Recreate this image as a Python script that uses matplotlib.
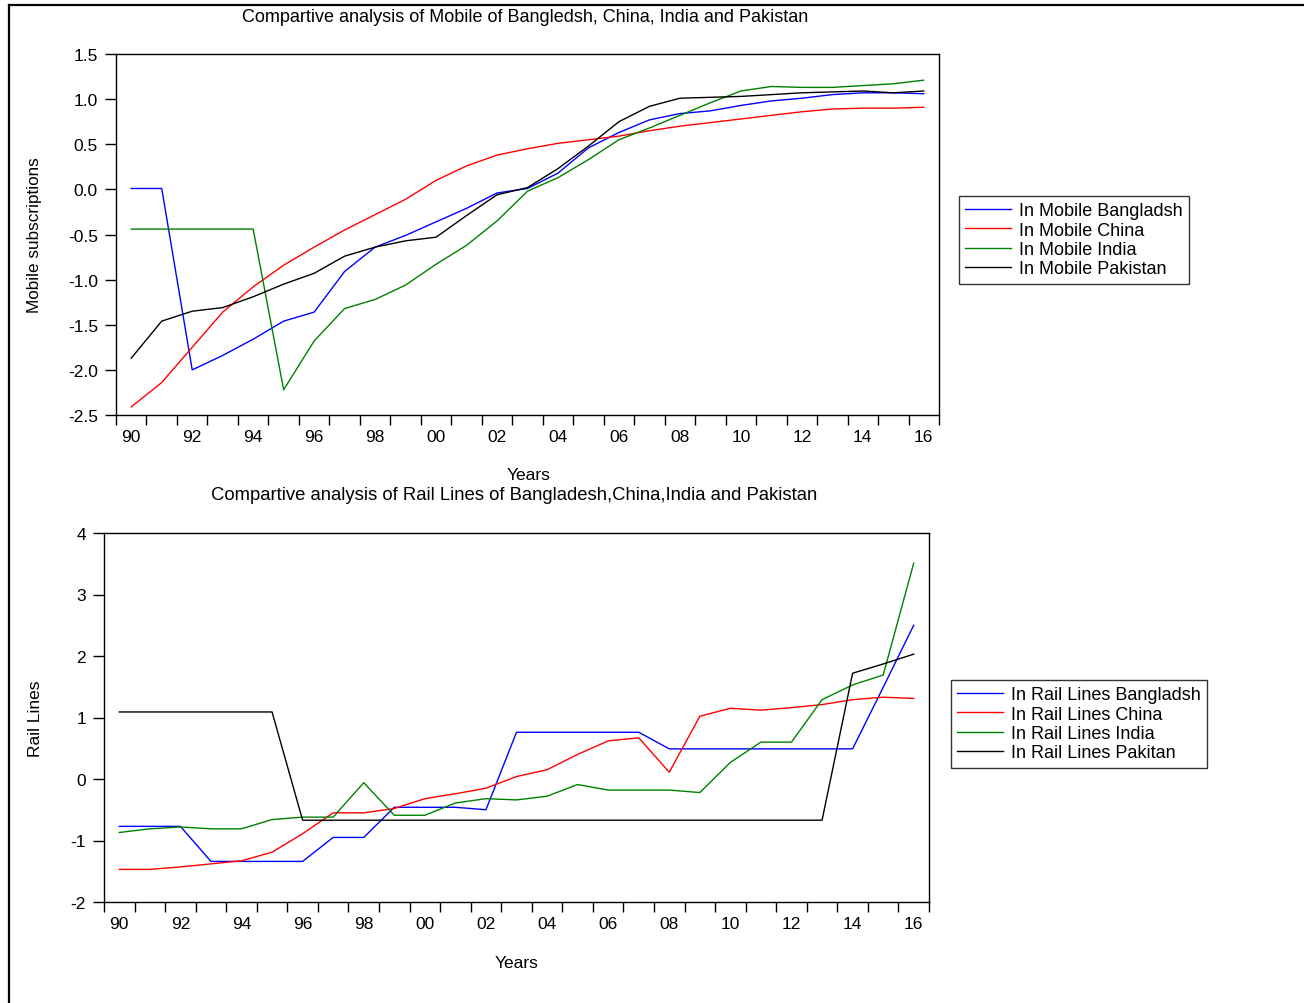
import numpy as np
import matplotlib
matplotlib.use("Agg")
import matplotlib.pyplot as plt
from matplotlib.lines import Line2D
from matplotlib.ticker import FixedLocator, NullFormatter

plt.rcParams['font.family'] = ['Liberation Sans', 'DejaVu Sans']

years = list(range(1990, 2017))
year_labels = ['90', '92', '94', '96', '98', '00', '02', '04', '06', '08', '10', '12', '14', '16']

# mobile subscriptions
mob_bangladesh = [0.01, 0.01, -2.00, -1.84, -1.66, -1.46, -1.36, -0.91, -0.64, -0.51, -0.36, -0.21, -0.04,
                  0.01, 0.18, 0.46, 0.63, 0.77, 0.84, 0.87, 0.93, 0.98, 1.01, 1.05, 1.07, 1.07, 1.06]
mob_china = [-2.41, -2.14, -1.75, -1.36, -1.08, -0.84, -0.64, -0.45, -0.28, -0.11, 0.10, 0.26, 0.38,
             0.45, 0.51, 0.55, 0.59, 0.65, 0.70, 0.74, 0.78, 0.82, 0.86, 0.89, 0.90, 0.90, 0.91]
mob_india = [-0.44, -0.44, -0.44, -0.44, -0.44, -2.22, -1.68, -1.32, -1.22, -1.06, -0.83, -0.62, -0.35,
             -0.02, 0.13, 0.33, 0.55, 0.68, 0.82, 0.96, 1.09, 1.14, 1.13, 1.13, 1.15, 1.17, 1.21]
mob_pakistan = [-1.87, -1.46, -1.35, -1.31, -1.19, -1.05, -0.93, -0.74, -0.64, -0.57, -0.53, -0.29, -0.06,
                0.02, 0.23, 0.48, 0.75, 0.92, 1.01, 1.02, 1.03, 1.05, 1.07, 1.08, 1.09, 1.07, 1.09]

# rail lines
rail_bangladesh = [-0.77, -0.77, -0.77, -1.34, -1.34, -1.34, -1.34, -0.95, -0.95, -0.46, -0.46, -0.46, -0.50,
                   0.76, 0.76, 0.76, 0.76, 0.76, 0.49, 0.49, 0.49, 0.49, 0.49, 0.49, 0.49, 1.49, 2.50]
rail_china = [-1.47, -1.47, -1.43, -1.38, -1.33, -1.19, -0.89, -0.55, -0.55, -0.48, -0.32, -0.24, -0.15,
              0.04, 0.15, 0.40, 0.62, 0.67, 0.11, 1.02, 1.15, 1.12, 1.16, 1.21, 1.29, 1.33, 1.31]
rail_india = [-0.87, -0.81, -0.78, -0.81, -0.81, -0.66, -0.62, -0.62, -0.06, -0.59, -0.59, -0.39, -0.32,
              -0.34, -0.28, -0.09, -0.18, -0.18, -0.18, -0.22, 0.27, 0.60, 0.60, 1.29, 1.53, 1.69, 3.51]
rail_pakistan = [1.09, 1.09, 1.09, 1.09, 1.09, 1.09, -0.67, -0.67, -0.67, -0.67, -0.67, -0.67, -0.67,
                 -0.67, -0.67, -0.67, -0.67, -0.67, -0.67, -0.67, -0.67, -0.67, -0.67, -0.67, 1.72, 1.87, 2.03]

colors = ['#0000FF', '#FF0000', '#008000', '#000000']

W, H = 1304, 1004
fig = plt.figure(figsize=(W / 100, H / 100), dpi=100)
fig.patch.set_facecolor('white')


def box(l, t, r, b):
    return [l / W, 1 - b / H, (r - l) / W, (b - t) / H]


def fx(x):
    return x / W


def fy(y):
    return 1 - y / H


def style_axis(ax, ylim, yticks, ylabels):
    ax.set_xlim(1989.5, 2016.5)
    ax.set_ylim(*ylim)
    ax.set_xticks(range(1990, 2017, 2))
    ax.set_xticklabels(year_labels)
    ax.xaxis.set_minor_locator(FixedLocator(np.arange(1989.5, 2017, 1.0)))
    ax.xaxis.set_minor_formatter(NullFormatter())
    ax.tick_params(axis='x', which='major', length=0, pad=10, labelsize=12.5)
    ax.tick_params(axis='x', which='minor', length=7, width=1, direction='out')
    ax.set_yticks(yticks)
    ax.set_yticklabels(ylabels)
    ax.tick_params(axis='y', length=8, width=1, direction='out', pad=5, labelsize=12.5)
    for s in ax.spines.values():
        s.set_linewidth(1)
        s.set_color('black')


def add_legend(ax, x, y):
    leg = ax.legend(loc='upper left', bbox_to_anchor=(fx(x), fy(y)), bbox_transform=fig.transFigure,
                    fontsize=13, frameon=True, fancybox=False, edgecolor='#333333', framealpha=1,
                    handlelength=2.55, handletextpad=0.4, labelspacing=0.13, borderpad=0.35,
                    borderaxespad=0)
    leg.get_frame().set_linewidth(1)
    return leg


# top panel
ax1 = fig.add_axes(box(116, 55, 939, 416))
mob = [mob_bangladesh, mob_china, mob_india, mob_pakistan]
mob_names = ['In Mobile Bangladsh', 'In Mobile China', 'In Mobile India', 'In Mobile Pakistan']
for vals, c, n in zip(mob, colors, mob_names):
    ax1.plot(years, vals, color=c, lw=1, label=n)
style_axis(ax1, (-2.5, 1.5), [1.5, 1.0, 0.5, 0.0, -0.5, -1.0, -1.5, -2.0, -2.5],
           ['1.5', '1.0', '0.5', '0.0', '-0.5', '-1.0', '-1.5', '-2.0', '-2.5'])
add_legend(ax1, 959, 197)

# bottom panel
ax2 = fig.add_axes(box(104, 534, 929, 903))
rail = [rail_bangladesh, rail_china, rail_india, rail_pakistan]
rail_names = ['In Rail Lines Bangladsh', 'In Rail Lines China', 'In Rail Lines India', 'In Rail Lines Pakitan']
for vals, c, n in zip(rail, colors, rail_names):
    ax2.plot(years, vals, color=c, lw=1, label=n)
style_axis(ax2, (-2, 4), [4, 3, 2, 1, 0, -1, -2], ['4', '3', '2', '1', '0', '-1', '-2'])
add_legend(ax2, 951, 681)

# titles and axis labels
fig.text(fx(525), fy(17), 'Compartive analysis of Mobile of Bangledsh, China, India and Pakistan',
         ha='center', va='center', fontsize=13)
fig.text(fx(514), fy(496), 'Compartive analysis of Rail Lines of Bangladesh,China,India and Pakistan',
         ha='center', va='center', fontsize=13.3)
fig.text(fx(529), fy(476), 'Years', ha='center', va='center', fontsize=12.5)
fig.text(fx(517), fy(964), 'Years', ha='center', va='center', fontsize=12.5)
fig.text(fx(35), fy(235), 'Mobile subscriptions', rotation=90, ha='center', va='center', fontsize=12.3)
fig.text(fx(35), fy(719), 'Rail Lines', rotation=90, ha='center', va='center', fontsize=12.5)

# outer frame (top and left edges visible)
fig.add_artist(Line2D([fx(8.5), fx(8.5)], [fy(6), 0], color='black', lw=1.6, transform=fig.transFigure))
fig.add_artist(Line2D([fx(8.5), 1], [fy(6), fy(6)], color='black', lw=1.6, transform=fig.transFigure))

fig.savefig('out.png', dpi=100)
